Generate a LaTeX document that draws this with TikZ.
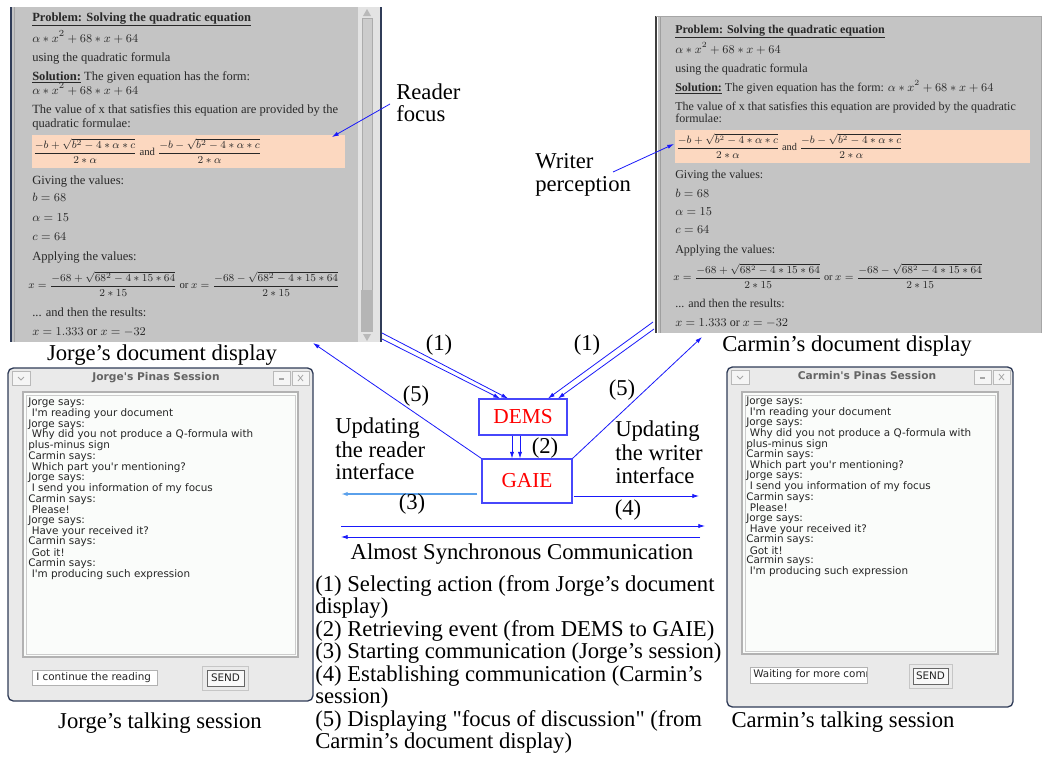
\documentclass[tikz,border=0pt]{standalone}
\usepackage{fontspec}
\setmainfont{Liberation Serif}
\newfontfamily\uisans{DejaVu Sans}
\usetikzlibrary{arrows.meta,calc}

\definecolor{flowblue}{RGB}{25,25,250}
\definecolor{lightflow}{RGB}{90,160,235}
\definecolor{pagegray}{RGB}{196,196,196}
\definecolor{focuspeach}{RGB}{252,216,192}
\definecolor{winframe}{RGB}{48,60,88}
\definecolor{winbody}{RGB}{234,234,234}
\definecolor{chatwhite}{RGB}{250,252,250}
\definecolor{pagetext}{RGB}{40,40,40}
\definecolor{titlegray}{RGB}{100,100,100}

\tikzset{
  lbl/.style={inner sep=0pt, font=\fontsize{17}{17}\selectfont},
  lblw/.style={lbl, anchor=base west},
  pgl/.style={anchor=base west, inner sep=0pt, text=pagetext, font=\fontsize{9.4}{10}\selectfont},
  pgr/.style={anchor=base west, inner sep=0pt, text=pagetext, font=\fontsize{9}{10}\selectfont},
  chattxt/.style={anchor=west, inner sep=0pt, text=black!85, font=\uisans\fontsize{7.8}{8}\selectfont},
  wintitle/.style={inner sep=0pt, text=titlegray, font=\uisans\bfseries\fontsize{8}{8}\selectfont},
  flow/.style={draw=flowblue, line width=0.6pt, -{Latex[length=5pt,width=3.2pt]}},
  procbox/.style={draw=flowblue!80, line width=0.8pt, text=red, font=\fontsize{16}{16}\selectfont},
  winbtn/.style={draw=gray!55, fill=gray!8, line width=0.4pt}
}

\newcommand{\qfplus}{\displaystyle\frac{-b+\sqrt{b^2-4*\alpha*c}}{2*\alpha}}
\newcommand{\qfminus}{\displaystyle\frac{-b-\sqrt{b^2-4*\alpha*c}}{2*\alpha}}
\newcommand{\qvplus}{\displaystyle\frac{-68+\sqrt{68^2-4*15*64}}{2*15}}
\newcommand{\qvminus}{\displaystyle\frac{-68-\sqrt{68^2-4*15*64}}{2*15}}
\newcommand{\chatlog}{0/Jorge says:,1/I'm reading your document,0/Jorge says:,1/Why did you not produce a Q-formula with,0/plus-minus sign,0/Carmin says:,1/Which part you'r mentioning?,0/Jorge says:,1/I send you information of my focus,0/Carmin says:,1/Please!,0/Jorge says:,1/Have your received it?,0/Carmin says:,1/Got it!,0/Carmin says:,1/I'm producing such expression}

\begin{document}
\begin{tikzpicture}[x=0.75pt,y=-0.75pt]
\useasboundingbox (0,0) rectangle (1047,757);
\fill[white] (0,0) rectangle (1047,757);

% ---------- Jorge's document display ----------
\fill[pagegray] (12,7) rectangle (358,342);
\fill[gray!22] (358,7) rectangle (380,342);
\fill[gray!40] (362,18) rectangle (372,290);
\draw[gray!65, line width=0.4pt] (362,18) rectangle (372,290);
\fill[gray!58] (361,290) rectangle (373,332);
\fill[gray!55] (363,16) -- (367,9) -- (371,16) -- cycle;
\fill[gray!55] (363,334) -- (367,341) -- (371,334) -- cycle;
\draw[winframe, line width=1.3pt] (11,7) -- (11,342);
\draw[winframe, line width=1.3pt] (381,7) -- (381,342);
\draw[gray!70, line width=0.5pt] (14,7) -- (14,342);
\fill[focuspeach] (32,135) rectangle (345,168);

\node[pgl] (jp1) at (32,21) {\underline{\textbf{Problem: Solving the quadratic equation}}};
\node[pgl] (jp2) at (32,42) {$\alpha*x^2+68*x+64$};
\node[pgl] (jp3) at (32,61) {using the quadratic formula};
\node[pgl] (jp4) at (32,80) {\underline{\textbf{Solution:}} The given equation has the form:};
\node[pgl] (jp5) at (32,94) {$\alpha*x^2+68*x+64$};
\node[pgl] (jp6) at (32,113) {The value of x that satisfies this equation are provided by the};
\node[pgl] (jp7) at (32,127) {quadratic formulae:};
\node[pgl, anchor=west, font=\fontsize{8}{9}\selectfont] (jp8) at (33,151) {$\qfplus$ and $\qfminus$};
\node[pgl] (jp9) at (32,184) {Giving the values:};
\node[pgl] (jp10) at (32,201) {$b=68$};
\node[pgl] (jp11) at (32,221) {$\alpha=15$};
\node[pgl] (jp12) at (32,240) {$c=64$};
\node[pgl] (jp13) at (32,260) {Applying the values:};
\node[pgl, anchor=west, font=\fontsize{8}{9}\selectfont] (jp14) at (28,284) {$x=\qvplus$ or $x=\qvminus$};
\node[pgl] (jp15) at (32,316) {... and then the results:};
\node[pgl] (jp16) at (32,335) {$x=1.333$ or $x=-32$};

% ---------- Carmin's document display ----------
\fill[pagegray] (658,16) rectangle (1041,333);
\draw[black!75, line width=0.8pt] (656,16) -- (656,333);
\draw[gray!75, line width=0.5pt] (660,16) -- (660,333);
\draw[gray!70, line width=0.5pt] (656,16) -- (1041,16) -- (1041,333);
\fill[focuspeach] (675,130) rectangle (1030,163);

\node[pgr] (cp1) at (675,33) {\underline{\textbf{Problem: Solving the quadratic equation}}};
\node[pgr] (cp2) at (675,53) {$\alpha*x^2+68*x+64$};
\node[pgr] (cp3) at (675,72) {using the quadratic formula};
\node[pgr] (cp4) at (675,91) {\underline{\textbf{Solution:}} The given equation has the form: $\alpha*x^2+68*x+64$};
\node[pgr] (cp5) at (675,110) {The value of x that satisfies this equation are provided by the quadratic};
\node[pgr] (cp6) at (675,122) {formulae:};
\node[pgr, anchor=west, font=\fontsize{7.7}{9}\selectfont] (cp7) at (676,146) {$\qfplus$ and $\qfminus$};
\node[pgr] (cp8) at (675,178) {Giving the values:};
\node[pgr] (cp9) at (675,197) {$b=68$};
\node[pgr] (cp10) at (675,215) {$\alpha=15$};
\node[pgr] (cp11) at (675,233) {$c=64$};
\node[pgr] (cp12) at (675,253) {Applying the values:};
\node[pgr, anchor=west, font=\fontsize{7.7}{9}\selectfont] (cp13) at (673,276) {$x=\qvplus$ or $x=\qvminus$};
\node[pgr] (cp14) at (675,307) {... and then the results:};
\node[pgr] (cp15) at (675,326) {$x=1.333$ or $x=-32$};

% ---------- captions and annotations ----------
\node[lbl] (jdcap) at (162,355) {Jorge’s document display};
\node[lbl] (cdcap) at (847,346) {Carmin’s document display};
\node[lblw] (rf1) at (396,99) {Reader};
\node[lblw] (rf2) at (396,121) {focus};
\node[lblw] (wp1) at (535,168) {Writer};
\node[lblw] (wp2) at (535,191) {perception};
\coordinate (rfstart) at (390,104);
\coordinate (rftarget) at (332,137);
\coordinate (wpstart) at (613,172);
\coordinate (wptarget) at (674,144);
\draw[flow] (rfstart) -- (rftarget);
\draw[flow] (wpstart) -- (wptarget);

% ---------- DEMS / GAIE ----------
\node[procbox, minimum width=66pt, minimum height=27pt] (dems) at (523,417) {DEMS};
\node[procbox, minimum width=67.5pt, minimum height=33pt] (gaie) at (527,481) {GAIE};

\coordinate (jdA) at (382,333);
\coordinate (jdB) at (382,339);
\coordinate (cdA) at (653,322);
\coordinate (cdB) at (654,329);
\coordinate (jdfocus) at (313,343);
\coordinate (cdfocus) at (702,337);
\coordinate (startL) at (341,494);
\coordinate (estR) at (699,496);
\coordinate (syncA) at (341,526);
\coordinate (syncB) at (705,526);
\coordinate (syncC) at (700,537);
\coordinate (syncD) at (341,537);

\draw[flow] (jdA) -- ($(dems.north)+(-15,0)$);
\draw[flow] (jdB) -- ($(dems.north)+(-23,0)$);
\draw[flow] (cdA) -- ($(dems.north)+(25,0)$);
\draw[flow] (cdB) -- ($(dems.north)+(35,0)$);
\draw[flow] ($(dems.south)+(-11,0)$) -- ($(gaie.north)+(-15,0)$);
\draw[flow] ($(dems.south)+(-3,0)$) -- ($(gaie.north)+(-7,0)$);
\draw[flow] (gaie.north west) -- (jdfocus);
\draw[flow] (gaie.north east) -- (cdfocus);
\draw[flow, draw=lightflow, line width=1pt] ($(gaie.west)+(-4,13)$) -- (startL);
\draw[flow] ($(gaie.east)+(1,15)$) -- (estR);
\draw[flow] (syncA) -- (syncB);
\draw[flow] (syncC) -- (syncD);

\node[lbl] (n1a) at (439,345) {(1)};
\node[lbl] (n1b) at (587,345) {(1)};
\node[lbl] (n5a) at (416,396) {(5)};
\node[lbl] (n5b) at (622,390) {(5)};
\node[lbl] (n2) at (545,448) {(2)};
\node[lbl] (n3) at (412,504) {(3)};
\node[lbl] (n4) at (628,510) {(4)};

\node[lblw] (ur1) at (335,433) {Updating};
\node[lblw] (ur2) at (335,457) {the reader};
\node[lblw] (ur3) at (335,479) {interface};
\node[lblw] (uw1) at (615,436) {Updating};
\node[lblw] (uw2) at (615,460) {the writer};
\node[lblw] (uw3) at (615,483) {interface};
\node[lbl, anchor=base] (asc) at (522,559) {Almost Synchronous Communication};

% ---------- legend ----------
\node[lblw] (lg1) at (315,591) {(1) Selecting action (from Jorge’s document};
\node[lblw] (lg2) at (315,613) {display)};
\node[lblw] (lg3) at (315,636) {(2) Retrieving event (from DEMS to GAIE)};
\node[lblw] (lg4) at (315,658) {(3) Starting communication (Jorge’s session)};
\node[lblw] (lg5) at (315,681) {(4) Establishing communication (Carmin’s};
\node[lblw] (lg6) at (315,703) {session)};
\node[lblw] (lg7) at (315,726) {(5) Displaying \textquotedbl focus of discussion\textquotedbl{} (from};
\node[lblw] (lg8) at (315,748) {Carmin’s document display)};

% ---------- Jorge's talking session ----------
\draw[winframe, fill=winbody, line width=1pt, rounded corners=4pt] (8,368) rectangle (313,701);
\node[wintitle] (jtitle) at (156,378) {Jorge's Pinas Session};
\draw[winbtn] (12,371) rectangle (30,385);
\draw[gray!70, line width=0.6pt] (18,377) -- (21,380) -- (24,377);
\draw[winbtn] (273,371) rectangle (290,385);
\draw[gray!70, line width=0.8pt] (279,379) -- (284,379);
\draw[winbtn] (292,371) rectangle (309,385);
\draw[gray!70, line width=0.6pt] (298,375) -- (303,381) (298,381) -- (303,375);
\draw[gray!60, fill=chatwhite, line width=0.8pt] (23,392) rectangle (298,657);
\draw[gray!40, line width=0.5pt] (26,395) rectangle (295,654);
\foreach \ind/\txt [count=\k] in \chatlog {
  \node[chattxt] (jchat\k) at ({28+3.5*\ind},{403+10.7*(\k-1)}) {\txt};
}
\draw[gray!60, fill=white, line width=0.6pt] (32,670) rectangle (157,685);
\node[chattxt] (jinput) at (36,677.5) {I continue the reading};
\draw[gray!45, fill=winbody, line width=0.6pt] (202,666) rectangle (248,690);
\draw[gray!80!black, fill=gray!5, line width=0.7pt] (207,670) rectangle (244,686);
\node[chattxt, anchor=center] (jsend) at (225.5,678) {SEND};
\node[lbl] (jtalk) at (160,723) {Jorge’s talking session};

% ---------- Carmin's talking session ----------
\draw[winframe, fill=winbody, line width=1pt, rounded corners=4pt] (727,367) rectangle (1013,707);
\node[wintitle] (ctitle) at (867,376) {Carmin's Pinas Session};
\draw[winbtn] (731,370) rectangle (749,384);
\draw[gray!70, line width=0.6pt] (737,376) -- (740,379) -- (743,376);
\draw[winbtn] (974,370) rectangle (991,384);
\draw[gray!70, line width=0.8pt] (980,378) -- (985,378);
\draw[winbtn] (993,370) rectangle (1010,384);
\draw[gray!70, line width=0.6pt] (999,374) -- (1004,380) (999,380) -- (1004,374);
\draw[gray!60, fill=chatwhite, line width=0.8pt] (742,392) rectangle (998,654);
\draw[gray!40, line width=0.5pt] (745,395) rectangle (995,651);
\foreach \ind/\txt [count=\k] in \chatlog {
  \node[chattxt] (cchat\k) at ({746+3.5*\ind},{402+10.6*(\k-1)}) {\txt};
}
\draw[gray!60, fill=white, line width=0.6pt] (750,667) rectangle (867,683);
\begin{scope}
  \clip (751,668) rectangle (866,682);
  \node[chattxt] (cinput) at (753,675) {Waiting for more comments};
\end{scope}
\draw[gray!45, fill=winbody, line width=0.6pt] (909,664) rectangle (952,688);
\draw[gray!80!black, fill=gray!5, line width=0.7pt] (913,668) rectangle (948,684);
\node[chattxt, anchor=center] (csend) at (930.5,676) {SEND};
\node[lbl] (ctalk) at (843,722) {Carmin’s talking session};

\end{tikzpicture}
\end{document}
